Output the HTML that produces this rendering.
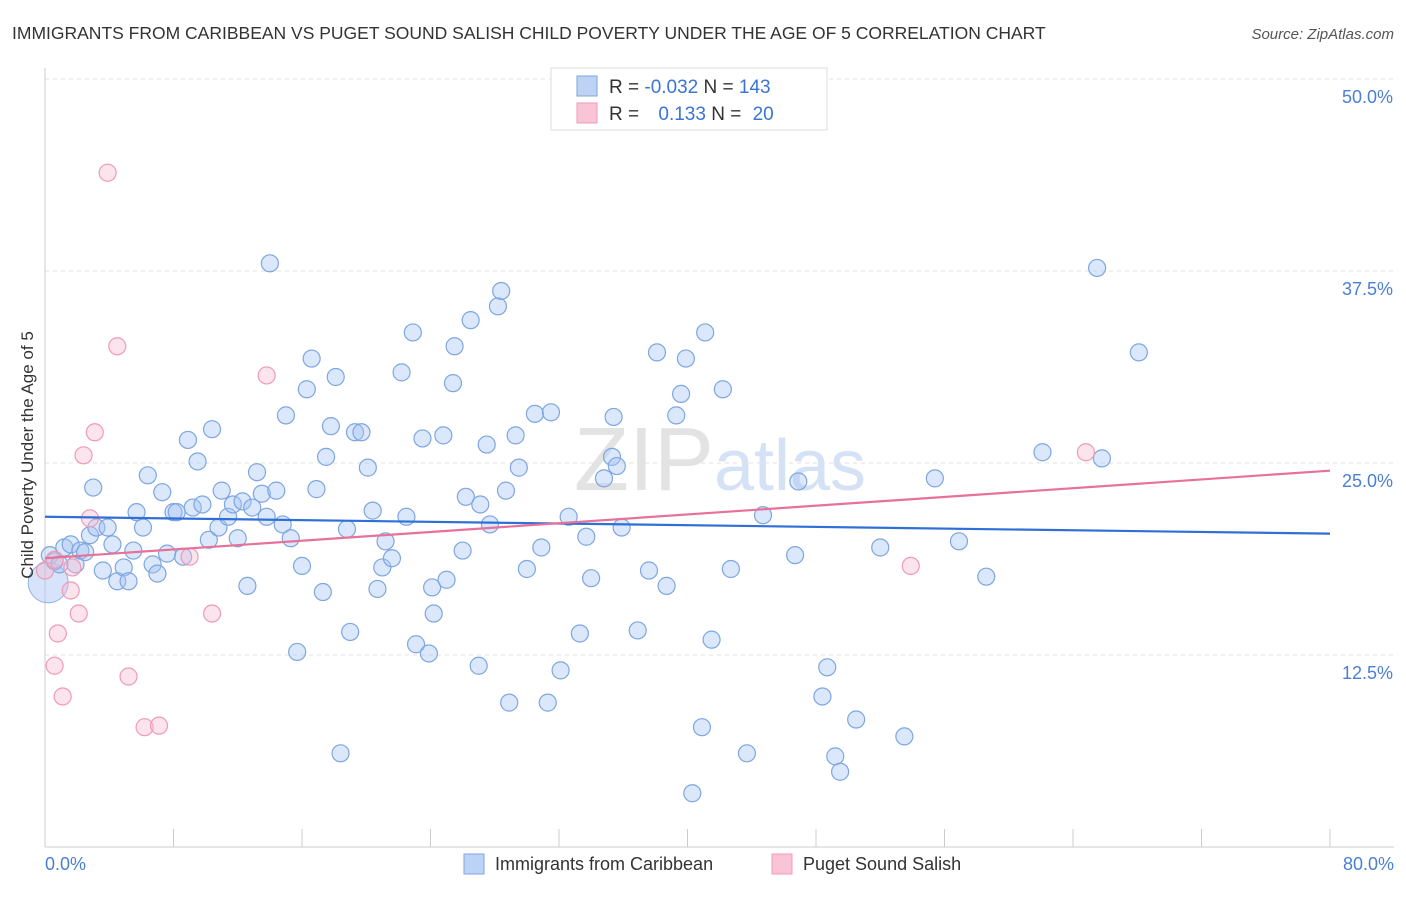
<!DOCTYPE html>
<html><head><meta charset="utf-8"><style>
body{margin:0;background:#fff;font-family:"Liberation Sans",sans-serif;}
svg text{font-family:"Liberation Sans",sans-serif;}
</style></head><body>
<svg id="chart" width="1406" height="892" xmlns="http://www.w3.org/2000/svg">
<text x="12" y="39" font-size="17.5" fill="#333">IMMIGRANTS FROM CARIBBEAN VS PUGET SOUND SALISH CHILD POVERTY UNDER THE AGE OF 5 CORRELATION CHART</text>
<text x="1394" y="39" font-size="15" fill="#555" text-anchor="end" font-style="italic">Source: ZipAtlas.com</text>
<text x="720" y="490" font-size="90" fill="#e3e3e3" text-anchor="middle" font-family="Liberation Serif">ZIP<tspan fill="#d5e2f5" font-family="Liberation Sans" font-size="72">atlas</tspan></text>
<g id="grid"></g>
<g id="axes"></g>
<g id="pts"></g>
<g id="trends"></g>
<text transform="translate(33,455) rotate(-90)" font-size="17" fill="#333" text-anchor="middle">Child Poverty Under the Age of 5</text>
<g>
<rect x="551" y="68" width="276" height="62" fill="#fff" stroke="#ddd"/>
<rect x="577" y="76" width="20" height="20" fill="#bcd3f5" stroke="#7ea6e0"/>
<rect x="577" y="103" width="20" height="20" fill="#f9c5d6" stroke="#f09ab5"/>
<text x="609" y="93" font-size="19" fill="#333">R = <tspan fill="#3a74d6">-0.032</tspan>   N = <tspan fill="#3a74d6">143</tspan></text>
<text x="609" y="120" font-size="19" fill="#333">R = <tspan fill="#3a74d6" dx="14">0.133</tspan>   N = <tspan fill="#3a74d6" dx="6">20</tspan></text>
</g>
<g>
<rect x="464" y="854" width="20" height="20" fill="#bcd3f5" stroke="#7ea6e0"/>
<text x="495" y="870" font-size="18" fill="#333">Immigrants from Caribbean</text>
<rect x="772" y="854" width="20" height="20" fill="#f9c5d6" stroke="#f09ab5"/>
<text x="803" y="870" font-size="18" fill="#333">Puget Sound Salish</text>
</g>
</svg>
<script>
const blueX=[0.3,0.6,0.9,1.2,1.6,1.9,2.2,2.5,2.8,3.0,3.2,3.6,3.9,4.2,4.5,4.9,5.2,5.5,5.7,6.1,6.4,6.7,7.0,7.3,7.6,8.0,8.2,8.6,8.9,9.2,9.5,9.8,10.2,10.4,10.8,11.0,11.4,11.7,12.0,12.3,12.6,12.9,13.2,13.5,13.8,14.0,14.4,14.8,15.0,15.3,15.7,16.0,16.3,16.6,16.9,17.3,17.5,17.8,18.1,18.8,19.0,18.4,19.3,19.7,20.1,20.4,21.0,21.2,20.7,21.6,22.2,22.5,22.9,23.1,23.5,23.9,24.1,24.2,24.8,25.0,25.4,25.5,26.0,26.2,26.5,27.0,27.1,27.5,27.7,28.2,28.4,28.7,28.9,29.3,29.5,30.0,30.5,30.9,31.3,31.5,32.1,32.6,33.3,33.7,34.0,34.8,35.3,35.4,35.6,35.9,36.9,37.6,38.1,38.7,39.3,39.6,39.9,40.3,40.9,41.1,41.5,42.2,42.7,43.7,44.7,46.7,46.9,48.4,48.7,49.2,49.5,50.5,52.0,53.5,55.4,56.9,58.6,62.1,65.5,65.8,68.1];
const blueY=[19.0,18.6,18.4,19.5,19.7,18.4,19.3,19.2,20.3,23.4,20.8,18.0,20.8,19.7,17.3,18.2,17.3,19.3,21.8,20.8,24.2,18.4,17.8,23.1,19.1,21.8,21.8,18.9,26.5,22.1,25.1,22.3,20.0,27.2,20.8,23.2,21.5,22.3,20.1,22.5,17.0,22.1,24.4,23.0,21.5,38.0,23.2,21.0,28.1,20.1,12.7,18.3,29.8,31.8,23.3,16.6,25.4,27.4,30.6,20.7,14.0,6.1,27.0,27.0,24.7,21.9,18.2,19.9,16.8,18.8,30.9,21.5,33.5,13.2,26.6,12.6,16.9,15.2,26.8,17.4,30.2,32.6,19.3,22.8,34.3,11.8,22.3,26.2,21.0,35.2,36.2,23.2,9.4,26.8,24.7,18.1,28.2,19.5,9.4,28.3,11.5,21.5,13.9,20.2,17.5,24.0,25.4,28.0,24.8,20.8,14.1,18.0,32.2,17.0,28.1,29.5,31.8,3.5,7.8,33.5,13.5,29.8,18.1,6.1,21.6,19.0,23.8,9.8,11.7,5.9,4.9,8.3,19.5,7.2,24.0,19.9,17.6,25.7,37.7,25.3,32.2];
const pinkX=[0.0,0.6,0.8,0.6,1.1,1.6,1.7,2.1,2.4,2.8,3.1,3.9,4.5,5.2,6.2,7.1,9.0,10.4,13.8,53.9,64.8];
const pinkY=[18.0,18.7,13.9,11.8,9.8,16.7,18.2,15.2,25.5,21.4,27.0,43.9,32.6,11.1,7.8,7.9,18.9,15.2,30.7,18.3,25.7];
const trendBlue=[21.5,20.4];
const trendPink=[18.8,24.5];
const yTicks=[12.5,25.0,37.5,50.0];
const xTickLabels=["0.0%","80.0%"];
const NS="http://www.w3.org/2000/svg";
const sx=v=>45+v/80*1285;
const sy=v=>847-v/12.5*192;
function mk(tag,attrs,parent){const e=document.createElementNS(NS,tag);for(const k in attrs)e.setAttribute(k,attrs[k]);parent.appendChild(e);return e;}
const grid=document.getElementById('grid'),axes=document.getElementById('axes'),pts=document.getElementById('pts'),tr=document.getElementById('trends');
yTicks.forEach(t=>{
 const l=mk('line',{x1:45,x2:1394,y1:sy(t),y2:sy(t),stroke:'#e2e2e2','stroke-dasharray':'4,4'},grid);
 
 
 const tx=mk('text',{x:1393,y:sy(t)+24,'font-size':18,fill:'#4a7fd4','text-anchor':'end'},grid);
 tx.textContent=t.toFixed(1)+'%';
 
 
});
const ya=mk('line',{x1:45,x2:45,y1:68,y2:847,stroke:'#ccc'},axes);


const xa=mk('line',{x1:45,x2:1394,y1:847,y2:847,stroke:'#ccc'},axes);


for(let i=0;i<=10;i++){
 const t=mk('line',{x1:sx(i*8),x2:sx(i*8),y1:829,y2:847,stroke:'#ccc'},axes);
 
 
}
[[0,'start',45],[80,'end',1394]].forEach((d,i)=>{
 const t=mk('text',{x:d[2],y:870,'font-size':18,fill:'#4a7fd4','text-anchor':d[1]},axes);
 t.textContent=xTickLabels[i];
 
 
});
const big=mk('circle',{cx:sx(0.2),cy:sy(17.2),r:20,fill:'rgba(164,194,244,0.45)',stroke:'#8fb2e6'},pts);


blueX.forEach((x,i)=>{
 const c=mk('circle',{cx:sx(x),cy:sy(blueY[i]),r:8.5,fill:'rgba(164,194,244,0.4)',stroke:'#7ea6e0','stroke-width':1.2},pts);
 
 
});
pinkX.forEach((x,i)=>{
 const c=mk('circle',{cx:sx(x),cy:sy(pinkY[i]),r:8.5,fill:'rgba(248,187,208,0.4)',stroke:'#f09ab5','stroke-width':1.2},pts);
 
 
});
const lb=mk('line',{x1:sx(0),x2:sx(80),y1:sy(trendBlue[0]),y2:sy(trendBlue[1]),stroke:'#2f6fd6','stroke-width':2.2},tr);


const lp=mk('line',{x1:sx(0),x2:sx(80),y1:sy(trendPink[0]),y2:sy(trendPink[1]),stroke:'#e8719a','stroke-width':2.2},tr);


</script>
</body></html>
